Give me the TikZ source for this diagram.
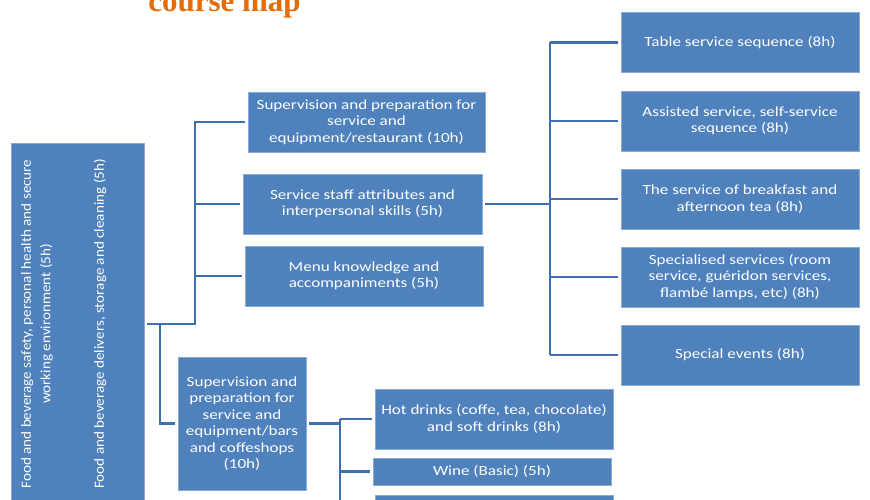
\documentclass[tikz,border=0pt]{standalone}
\usepackage{fontspec}
\newfontfamily\carlito[FakeStretch=1.22]{Carlito}
\newfontfamily\carlitor[FakeStretch=1.08]{Carlito}
\newfontfamily\titleserif{Liberation Serif}
\definecolor{boxblue}{HTML}{4F81BD}
\definecolor{boxedge}{HTML}{8AA9D6}
\definecolor{linkblue}{HTML}{3F6FAE}
\definecolor{titleorange}{HTML}{E46C0A}
\begin{document}
\begin{tikzpicture}[x=1pt,y=-1pt,
  box/.style={draw=boxedge, line width=0.8pt, fill=boxblue, text=white, align=center,
    inner sep=0pt, font=\carlito\fontsize{14}{16.5}\selectfont},
  conn/.style={draw=linkblue, line width=2.8pt, line cap=butt, line join=miter},
  rtext/.style={rotate=90, text=white, align=center, font=\carlitor\fontsize{14}{19.5}\selectfont}]
\clip (0,0) rectangle (870,500);
\fill[white] (0,0) rectangle (870,500);
% title
\node[anchor=base, text=titleorange, font=\titleserif\bfseries\fontsize{31}{34}\selectfont] (title) at (224.5,12) {course map};
% left box
\node[box, minimum width=133pt, minimum height=417pt] (left) at (77.5,351.5) {};
\node[rtext] (lt1) at (37,324) {Food and beverage safety, personal health and secure\\working environment (5h)};
\node[rtext] (lt2) at (100,324) {Food and beverage delivers, storage and cleaning (5h)};
% middle boxes
\node[box, minimum width=237pt, minimum height=60pt] (b1) at (366.5,122) {Supervision and preparation for\\service and\\equipment/restaurant (10h)};
\node[box, minimum width=239pt, minimum height=60pt] (b2) at (362.5,204) {Service staff attributes and\\interpersonal skills (5h)};
\node[box, minimum width=238pt, minimum height=60pt] (b3) at (364,276) {Menu knowledge and\\accompaniments (5h)};
\node[box, minimum width=128pt, minimum height=133pt] (b4) at (242,423.5) {Supervision and\\preparation for\\service and\\equipment/bars\\and coffeshops\\(10h)};
% right boxes
\node[box, minimum width=238pt, minimum height=60pt] (r1) at (740,42.5) {Table service sequence (8h)};
\node[box, minimum width=238pt, minimum height=60pt] (r2) at (740,121) {Assisted service, self-service\\sequence (8h)};
\node[box, minimum width=238pt, minimum height=60pt] (r3) at (740,199) {The service of breakfast and\\afternoon tea (8h)};
\node[box, minimum width=238pt, minimum height=60pt] (r4) at (740,277) {Specialised services (room\\service, guéridon services,\\flambé lamps, etc) (8h)};
\node[box, minimum width=238pt, minimum height=60pt] (r5) at (740,355) {Special events (8h)};
% bottom boxes
\node[box, minimum width=238pt, minimum height=60pt] (h1) at (494,419) {Hot drinks (coffe, tea, chocolate)\\and soft drinks (8h)};
\node[box, minimum width=238pt, minimum height=27pt] (h2) at (492,471.5) {Wine (Basic) (5h)};
\node[box, minimum width=238pt, minimum height=60pt] (h3) at (494,525) {};
% junctions
\coordinate (jA) at (195,324);
\coordinate (jB) at (160,324);
\coordinate (jC) at (550,204);
\coordinate (jD) at (340,423.5);
% connectors
\draw[conn] ([xshift=3pt]left.east |- jA) -- (jA) |- ([xshift=-3pt]b1.west);
\draw[conn] (jA |- b2) -- ([xshift=-3pt]b2.west);
\draw[conn] (jA |- b3) -- ([xshift=-3pt]b3.west);
\draw[conn] (jB) |- ([xshift=-3pt]b4.west);
\draw[conn] ([xshift=3pt]b2.east) -- (jC);
\draw[conn] (jC |- r1) -- (jC |- r5);
\foreach \r in {r1,r2,r3,r4,r5}
  \draw[conn] (jC |- \r) -- ([xshift=-3pt]\r.west);
\draw[conn] ([xshift=3pt]b4.east) -- (jD);
\draw[conn] (jD |- h1) -- (jD |- h3);
\foreach \h in {h1,h2,h3}
  \draw[conn] (jD |- \h) -- ([xshift=-3pt]\h.west);
\end{tikzpicture}
\end{document}
